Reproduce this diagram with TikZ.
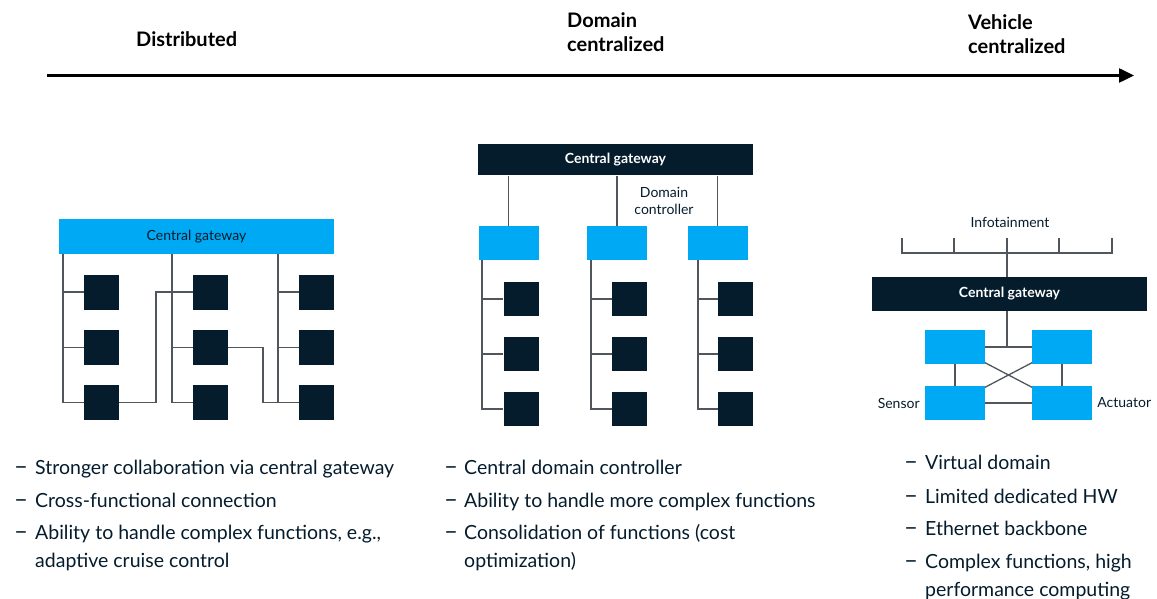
\documentclass[tikz,border=0pt]{standalone}
\usepackage{fontspec}
\setmainfont{Lato}
\usetikzlibrary{arrows.meta,backgrounds,calc}
\definecolor{navy}{RGB}{5,28,44}
\definecolor{cyanbox}{RGB}{0,169,244}
\definecolor{wire}{RGB}{80,86,92}
\tikzset{
  wireline/.style={draw=wire,line width=1.3pt},
  ecu/.style={fill=navy,draw=none,minimum width=35pt,minimum height=35pt,inner sep=0pt},
  ctrl/.style={fill=cyanbox,draw=none,minimum width=60pt,minimum height=34pt,inner sep=0pt},
  gwdark/.style={fill=navy,draw=none,minimum width=275pt,minimum height=31pt,inner sep=0pt,
     text=white,font=\bfseries\fontsize{14}{16}\selectfont},
  gwlight/.style={fill=cyanbox,draw=none,minimum width=275pt,minimum height=35pt,inner sep=0pt,
     text=navy,font=\fontsize{14}{16}\selectfont},
  smalllabel/.style={text=navy,font=\fontsize{14}{17}\selectfont,inner sep=0pt,align=center},
  stage/.style={text=black,font=\bfseries\fontsize{20}{24}\selectfont,inner sep=0pt,align=left,anchor=base west},
  bullet/.style={text=navy,font=\fontsize{19.5}{28}\selectfont,inner sep=0pt,anchor=base west,align=left},
  dashmark/.style={bullet,font=\fontsize{24}{28}\selectfont},
}
\begin{document}
\begin{tikzpicture}[x=1pt,y=-1pt]
\useasboundingbox (0,0) rectangle (1157,599);

% ---- evolution axis ----
\coordinate (axL) at (47,75.5);
\coordinate (axR) at (1134,75.5);
\draw[line width=2.5pt,-{Triangle[length=15pt,width=14pt]}] (axL) -- (axR);
\node[stage] (s1) at (136,47) {Distributed};
\node[stage] (s2) at (567,52) {Domain\\centralized};
\node[stage] (s3) at (968,54) {Vehicle\\centralized};

% ---- distributed architecture ----
\node[gwlight] (gw1) at (196.5,236.5) {Central gateway};
\foreach \c/\x in {1/101.5,2/210.5,3/316.5}{
  \foreach \r/\y in {1/292,2/347.5,3/402.5}{
    \node[ecu] (a\c\r) at (\x,\y) {};
  }
}
\coordinate (tr1) at (63,0);
\coordinate (tr2) at (172,0);
\coordinate (tr3) at (278,0);
\coordinate (jog1) at (156,0);
\coordinate (jog2) at (263,0);
\foreach \c in {1,2,3}{
  \draw[wireline] (gw1.south -| tr\c) |- (a\c3.west);
  \draw[wireline] (tr\c |- a\c1.west) -- (a\c1.west);
  \draw[wireline] (tr\c |- a\c2.west) -- (a\c2.west);
}
\draw[wireline] (a13.east) -- (jog1 |- a13.east) -- (jog1 |- a21.west) -- (a21.west);
\draw[wireline] (a22.east) -- (jog2 |- a22.east) -- (jog2 |- a33.west) -- (a33.west);

% ---- domain centralized architecture ----
\node[gwdark] (gw2) at (615.5,160) {Central gateway};
\node[ctrl] (d1) at (508.5,243) {};
\node[ctrl] (d2) at (617,243) {};
\node[ctrl] (d3) at (717.5,243) {};
\node[smalllabel] (dlab) at (664,201) {Domain\\controller};
\foreach \c/\x in {1/521,2/629.5,3/735.5}{
  \foreach \r/\y in {1/299,2/354,3/409}{
    \node[ecu,minimum height=34pt] (b\c\r) at (\x,\y) {};
  }
}
\coordinate (ts1) at (482,0);
\coordinate (ts2) at (591,0);
\coordinate (ts3) at (698,0);
\foreach \c in {1,2,3}{
  \draw[wireline] (d\c.north) -- (d\c.north |- gw2.south);
  \draw[wireline] (d\c.south -| ts\c) |- (b\c3.west);
  \draw[wireline] (ts\c |- b\c1.west) -- (b\c1.west);
  \draw[wireline] (ts\c |- b\c2.west) -- (b\c2.west);
}

% ---- vehicle centralized architecture ----
\node[smalllabel] (info) at (1010,222) {Infotainment};
\coordinate (busL) at (902,253);
\coordinate (busR) at (1112,253);
\coordinate (bus) at (1007,253);
\draw[wireline] (busL) ++(0,-15) -- (busL) -- (busR) -- ++(0,-15);
\foreach \x in {954,1007,1059}{
  \draw[wireline] (\x,253) -- (\x,238);
}
\node[gwdark,minimum height=34pt] (gw3) at (1009.5,294) {Central gateway};
\draw[wireline] (bus) -- (bus |- gw3.north);
\node[ctrl] (c1) at (955,347) {};
\node[ctrl] (c2) at (1062,347) {};
\node[ctrl] (c3) at (955,403) {};
\node[ctrl] (c4) at (1062,403) {};
\begin{scope}[on background layer]
  \draw[wireline] (bus |- gw3.south) -- (bus |- c1.center);
  \draw[wireline] (c1.center) -- (c2.center) -- (c4.center) -- (c3.center) -- cycle;
  \draw[wireline] (c1.center) -- (c4.center);
  \draw[wireline] (c2.center) -- (c3.center);
\end{scope}
\node[smalllabel,anchor=east] (sens) at ([xshift=-5pt]c3.west) {Sensor};
\node[smalllabel,anchor=west] (act) at ([xshift=5pt]c4.east) {Actuator};

% ---- characteristics ----
\foreach \y in {474,507,539}{
  \node[dashmark] at (14,\y) {–};
}
\node[bullet] (p11) at (35,474) {Stronger collaboration via central gateway};
\node[bullet] (p12) at (35,507) {Cross-functional connection};
\node[bullet] (p13) at (35,567) {Ability to handle complex functions, e.g.,\\adaptive cruise control};

\foreach \y in {474,507,539}{
  \node[dashmark] at (444,\y) {–};
}
\node[bullet] (p21) at (464,474) {Central domain controller};
\node[bullet] (p22) at (464,507) {Ability to handle more complex functions};
\node[bullet] (p23) at (464,567) {Consolidation of functions (cost\\optimization)};

\foreach \y in {469,503,535,568}{
  \node[dashmark] at (904,\y) {–};
}
\node[bullet] (p31) at (925,469) {Virtual domain};
\node[bullet] (p32) at (925,503) {Limited dedicated HW};
\node[bullet] (p33) at (925,535) {Ethernet backbone};
\node[bullet] (p34) at (925,596) {Complex functions, high\\performance computing};
\end{tikzpicture}
\end{document}
